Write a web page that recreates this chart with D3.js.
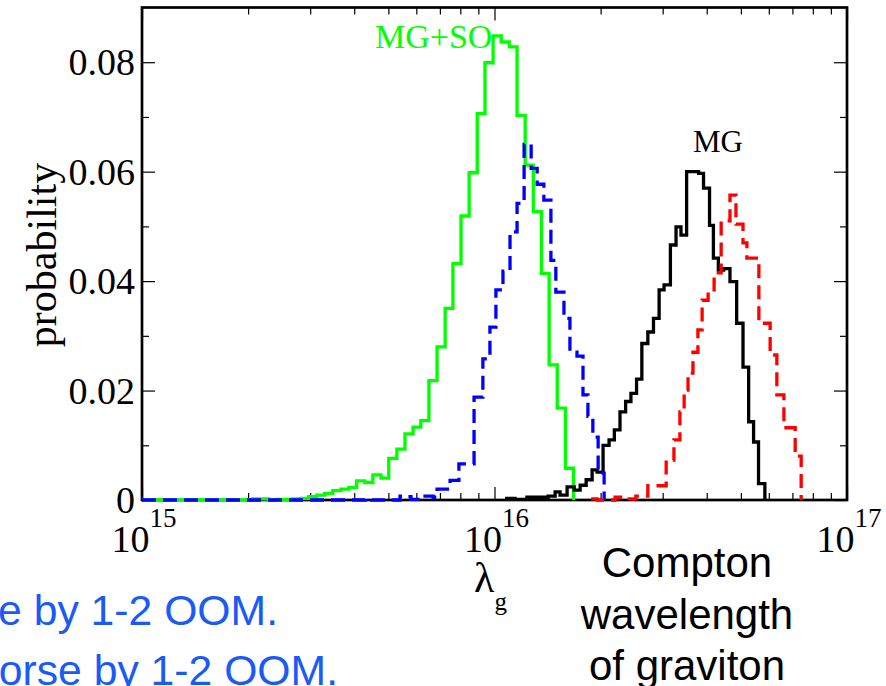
<!DOCTYPE html>
<html><head><meta charset="utf-8">
<script src="https://cdn.jsdelivr.net/npm/d3@7"></script>
<style>body{margin:0;background:#fff}svg{display:block}</style>
</head><body><svg id="c" width="886" height="686"></svg>
<script>
// ---- data (bin edges in log10 of lambda_g, probabilities per bin) ----
const mgsoEdges = [15.314,15.336,15.359,15.382,15.405,15.427,15.450,15.473,15.496,15.518,15.541,15.564,15.587,15.609,15.632,15.655,15.678,15.700,15.723,15.746,15.769,15.791,15.814,15.837,15.860,15.882,15.905,15.928,15.951,15.973,15.996,16.019,16.042,16.064,16.087,16.110,16.133,16.155,16.178,16.201,16.224];
const mgsoProb = [0.0002,0.0002,0,0.0001,0.0001,0.0002,0.0003,0.0006,0.0009,0.0012,0.0017,0.0020,0.0023,0.0035,0.0032,0.0046,0.0040,0.0076,0.0093,0.0121,0.0133,0.0145,0.0218,0.0280,0.0350,0.0432,0.0519,0.0598,0.0706,0.0799,0.0848,0.0837,0.0828,0.0703,0.0612,0.0527,0.0414,0.0247,0.0168,0.0058];

const mgsoBEdges = [15.633,15.652,15.732,15.749,15.763,15.783,15.826,15.837,15.874,15.899,15.942,15.967,15.987,16.004,16.024,16.044,16.064,16.084,16.104,16.121,16.140,16.160,16.174,16.197,16.214,16.234,16.251,16.265,16.279,16.294,16.311];
const mgsoBProb = [0.0002,0,0.0007,0.0006,0.0001,0.0007,0.0005,0.0020,0.0036,0.0066,0.0188,0.0258,0.0316,0.0384,0.0418,0.0490,0.0542,0.0650,0.0606,0.0577,0.0548,0.0438,0.0380,0.0332,0.0270,0.0263,0.0192,0.0153,0.0115,0.0049];

const mgEdges = [16.030,16.058,16.092,16.152,16.172,16.186,16.206,16.226,16.243,16.260,16.277,16.291,16.308,16.325,16.340,16.356,16.372,16.387,16.403,16.418,16.435,16.451,16.467,16.481,16.499,16.515,16.529,16.545,16.562,16.579,16.593,16.610,16.621,16.635,16.650,16.668,16.687,16.705,16.721,16.735,16.749,16.767];
const mgProb = [0.0003,0.0001,0.0005,0.0007,0.0015,0.0009,0.0024,0.0018,0.0027,0.0037,0.0055,0.0051,0.0100,0.0110,0.0128,0.0161,0.0180,0.0195,0.0221,0.0286,0.0307,0.0332,0.0384,0.0393,0.0466,0.0499,0.0484,0.0600,0.0600,0.0597,0.0570,0.0502,0.0442,0.0420,0.0423,0.0399,0.0323,0.0243,0.0143,0.0106,0.0030];

const mgREdges = [16.274,16.291,16.342,16.376,16.401,16.435,16.487,16.509,16.526,16.538,16.549,16.563,16.577,16.589,16.606,16.623,16.643,16.668,16.685,16.705,16.716,16.750,16.782,16.801,16.821,16.853,16.870];
const mgRProb = [0.0002,0,0.0005,0.0002,0.0007,0.0026,0.0073,0.0110,0.0161,0.0201,0.0232,0.0270,0.0311,0.0365,0.0380,0.0415,0.0510,0.0557,0.0504,0.0470,0.0442,0.0323,0.0265,0.0192,0.0132,0.0080];

const xMajorExp = [15, 16, 17];
const xMinorMult = [2,3,4,5,6,7,8,9];
const yMajor = [0, 0.02, 0.04, 0.06, 0.08];
const yMinor = [0.01, 0.03, 0.05, 0.07];
const seriesLabels = ["MG+SO", "MG"];
const axisTitle = "probability";
const sideText = ["Compton", "wavelength", "of graviton"];
const noteText = ["e by 1-2 OOM.", "worse by 1-2 OOM."];

// ---- layout ----
const svg = d3.select("#c");
const L = 142, R = 847, T = 7.5, B = 500;
const x = d3.scaleLog().domain([1e15, 1e17]).range([L, R]);
const y = d3.scaleLinear().domain([0, 0.09]).range([B, T]);
const serif = "'Liberation Serif','Times New Roman',Times,serif";
const sans = "'Liberation Sans',Arial,Helvetica,sans-serif";

// frame
svg.append("rect").attr("x", L).attr("y", T).attr("width", R - L).attr("height", B - T)
  .attr("fill", "none").attr("stroke", "#000").attr("stroke-width", 2.7);

// ticks
const xMaj = xMajorExp.map(e => Math.pow(10, e));
const xMin = [];
xMajorExp.slice(0, -1).forEach(e => xMinorMult.forEach(m => xMin.push(m * Math.pow(10, e))));
function axisG(ax, tr) {
  const g = svg.append("g").attr("transform", tr).call(ax);
  g.select(".domain").remove();
  g.selectAll("line").attr("stroke", "#000").attr("stroke-width", 1.2);
  g.selectAll("text").remove();
  return g;
}
axisG(d3.axisBottom(x).tickValues(xMaj).tickSize(-13).tickFormat(""), `translate(0,${B})`);
axisG(d3.axisBottom(x).tickValues(xMin).tickSize(-7).tickFormat(""), `translate(0,${B})`);
axisG(d3.axisTop(x).tickValues(xMaj).tickSize(-13).tickFormat(""), `translate(0,${T})`);
axisG(d3.axisTop(x).tickValues(xMin).tickSize(-7).tickFormat(""), `translate(0,${T})`);
axisG(d3.axisLeft(y).tickValues(yMajor).tickSize(-13).tickFormat(""), `translate(${L},0)`);
axisG(d3.axisLeft(y).tickValues(yMinor).tickSize(-7).tickFormat(""), `translate(${L},0)`);
axisG(d3.axisRight(y).tickValues(yMajor).tickSize(-13).tickFormat(""), `translate(${R},0)`);
axisG(d3.axisRight(y).tickValues(yMinor).tickSize(-7).tickFormat(""), `translate(${R},0)`);

// y tick labels
svg.append("g").selectAll("text").data(yMajor).join("text")
  .attr("x", 135).attr("y", d => y(d) + 13).attr("text-anchor", "end")
  .attr("font-family", serif).attr("font-size", 38)
  .text(d => d === 0 ? "0" : d3.format(".2f")(d));

// x tick labels 10^n
const xl = svg.append("g").selectAll("text").data(xMajorExp).join("text")
  .attr("x", d => x(Math.pow(10, d)) + 2).attr("y", 552).attr("text-anchor", "middle")
  .attr("font-family", serif).attr("font-size", 38);
xl.append("tspan").text("10");
xl.append("tspan").attr("font-size", 27).attr("dy", -25).text(d => d);

// axis titles
svg.append("text").attr("transform", "translate(56,255) rotate(-90)")
  .attr("text-anchor", "middle").attr("font-family", serif).attr("font-size", 42).text(axisTitle);
const lt = svg.append("text").attr("x", 474).attr("y", 592).attr("font-family", serif).attr("font-size", 42);
lt.append("tspan").text("λ");
lt.append("tspan").attr("font-size", 25).attr("dy", 18).text("g");

// histograms
function drawHist(edges, prob, color, dash, fromAxisStart) {
  const pts = [];
  if (fromAxisStart) pts.push([1e15, 0]);
  prob.forEach((p, i) => pts.push([Math.pow(10, edges[i]), p]));
  pts.push([Math.pow(10, edges[edges.length - 1]), 0]);
  pts.push([Math.pow(10, edges[edges.length - 1]), 0]);
  const line = d3.line().x(d => x(d[0])).y(d => y(d[1])).curve(d3.curveStepAfter);
  svg.append("path").attr("d", line(pts)).attr("fill", "none")
    .attr("stroke", color).attr("stroke-width", 3.3)
    .attr("stroke-dasharray", dash || null).attr("stroke-linejoin", "miter");
}
drawHist(mgsoEdges, mgsoProb, "#00ff00", null, true);
drawHist(mgEdges, mgProb, "#000000", null, false);
drawHist(mgsoBEdges, mgsoBProb, "#0000ff", "14,7", true);
drawHist(mgREdges, mgRProb, "#ff0000", "14,7", false);

// series labels
svg.append("text").attr("x", 375).attr("y", 48).attr("font-family", serif).attr("font-size", 34)
  .attr("fill", "#00ff00").text(seriesLabels[0]);
svg.append("text").attr("x", 693).attr("y", 152).attr("font-family", serif).attr("font-size", 31)
  .attr("fill", "#000").text(seriesLabels[1]);

// side annotation
svg.append("g").selectAll("text").data(sideText).join("text")
  .attr("x", 687).attr("y", (d, i) => 577 + i * 51.5).attr("text-anchor", "middle")
  .attr("font-family", sans).attr("font-size", 42).attr("fill", "#000").text(d => d);

// blue notes (cut at left edge, as in the original slide)
svg.append("g").selectAll("text").data(noteText).join("text")
  .attr("x", (d, i) => i === 0 ? 278 : 338).attr("y", (d, i) => 625 + i * 60).attr("text-anchor", "end")
  .attr("font-family", sans).attr("font-size", 42.7).attr("fill", "#1a5af5").text(d => d);
</script></body></html>
